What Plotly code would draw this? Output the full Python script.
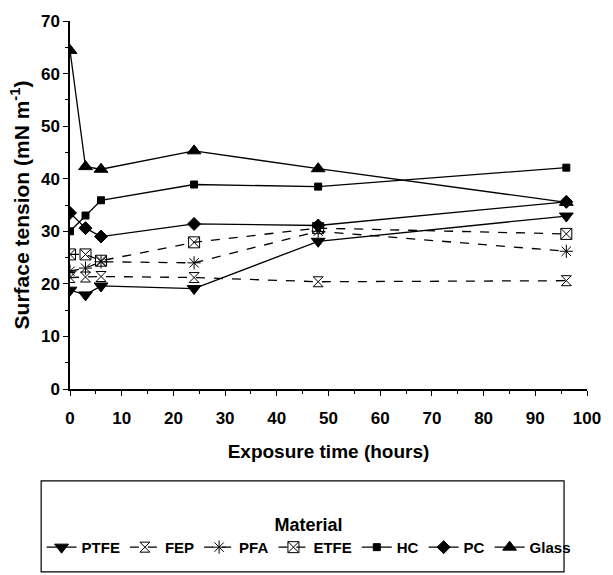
import plotly.graph_objects as go

hours = [0, 3, 6, 24, 48, 96]
ptfe = [18.8, 17.9, 19.6, 19.1, 28.1, 32.9]
fep = [21.2, 21.3, 21.4, 21.2, 20.4, 20.6]
pfa = [22.4, 23.0, 24.2, 24.0, 30.0, 26.2]
etfe = [25.6, 25.6, 24.4, 27.9, 30.6, 29.5]
hc = [30.0, 33.0, 35.9, 38.9, 38.5, 42.1]
pc = [33.5, 30.6, 29.0, 31.4, 31.1, 35.6]
glass = [64.4, 42.3, 41.8, 45.3, 41.9, 35.5]

series = [
    ("PTFE", ptfe, "triangle-down", 12, "solid"),
    ("FEP", fep, "hourglass-open", 10, "dash"),
    ("PFA", pfa, "asterisk-open", 11, "dash"),
    ("ETFE", etfe, "square-x-open", 11, "dash"),
    ("HC", hc, "square", 7, "solid"),
    ("PC", pc, "diamond", 10, "solid"),
    ("Glass", glass, "triangle-up", 12, "solid"),
]

fig = go.Figure()
for name, vals, sym, size, dash in series:
    fig.add_trace(go.Scatter(
        x=hours, y=vals, name=name, mode="lines+markers",
        line=dict(color="black", width=1.3, dash=dash),
        marker=dict(symbol=sym, size=size, color="black",
                    line=dict(color="black", width=1)),
    ))

font_family = "Liberation Sans, Arial, sans-serif"
fig.update_layout(
    width=613, height=575,
    margin=dict(l=70, r=18, t=15, b=186),
    paper_bgcolor="white", plot_bgcolor="white",
    font=dict(family=font_family, color="black", size=17),
    showlegend=True,
    legend=dict(
        orientation="h", x=-0.055, xanchor="left",
        y=-0.322, yanchor="top",
        title=dict(text="Material", side="top center",
                   font=dict(size=18, weight="bold")),
        font=dict(size=15, weight="bold"),
        itemwidth=30, traceorder="normal",
        bgcolor="rgba(0,0,0,0)",
    ),
    xaxis=dict(
        range=[0, 100], dtick=10, showgrid=False, zeroline=False,
        showline=True, linecolor="black", linewidth=1.5,
        ticks="outside", ticklen=5, tickcolor="black",
        minor=dict(dtick=5, ticks="outside", ticklen=3, tickcolor="black"),
        tickfont=dict(size=17, weight="bold"), ticklabelstandoff=8,
        title=dict(text="Exposure time (hours)", font=dict(size=19, weight="bold"), standoff=18),
    ),
    yaxis=dict(
        range=[0, 70], dtick=10, showgrid=False, zeroline=False,
        showline=True, linecolor="black", linewidth=1.5,
        ticks="outside", ticklen=5, tickcolor="black",
        minor=dict(dtick=5, ticks="outside", ticklen=3, tickcolor="black"),
        tickfont=dict(size=17, weight="bold"),
        title=dict(text="Surface tension (mN m<sup>-1</sup>)", font=dict(size=21, weight="bold"), standoff=6),
    ),
    shapes=[dict(type="rect", xref="paper", yref="paper",
                 x0=-0.0558, x1=0.9556, y0=-0.4967, y1=-0.2495,
                 line=dict(color="black", width=1.2), fillcolor="rgba(0,0,0,0)")],
)

fig.write_html("out.html")
